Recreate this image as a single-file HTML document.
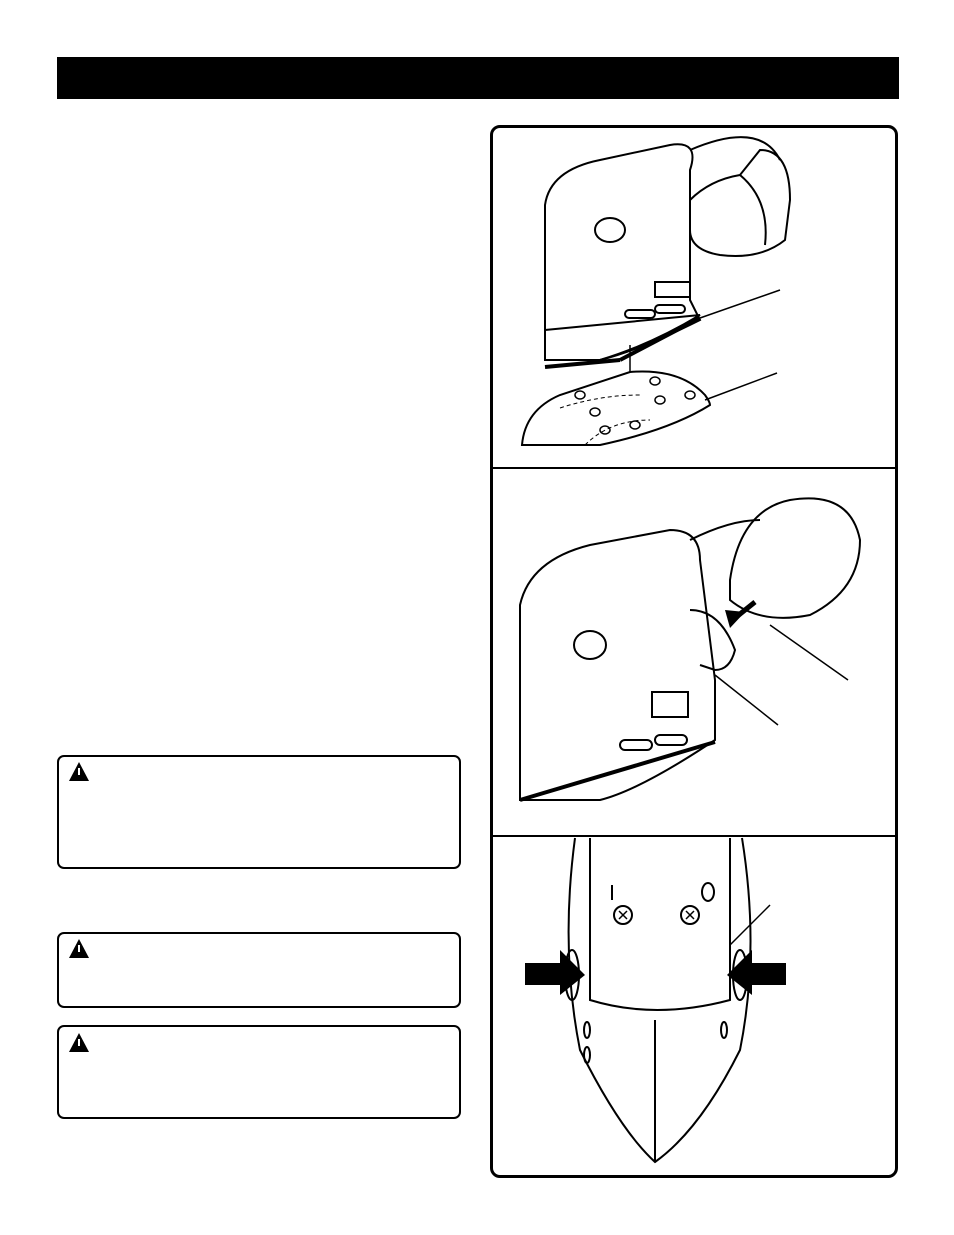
<!DOCTYPE html>
<html><head><meta charset="utf-8"><style>
html,body{margin:0;padding:0;background:#fff;}
body{width:954px;height:1235px;position:relative;overflow:hidden;font-family:"Liberation Sans",sans-serif;}
.bar{position:absolute;left:57px;top:57px;width:842px;height:42px;background:#000;}
.box{position:absolute;border:2.5px solid #000;border-radius:7px;box-sizing:border-box;}
</style></head><body>
<div class="bar"></div>
<div class="box" style="left:57px;top:755px;width:404px;height:114px"></div>
<div class="box" style="left:57px;top:932px;width:404px;height:76px"></div>
<div class="box" style="left:57px;top:1025px;width:404px;height:94px"></div>
<div class="box" style="left:490px;top:125px;width:408px;height:1053px;border-width:3px;border-radius:10px"></div>
<svg width="954" height="1235" style="position:absolute;left:0;top:0">
<g fill="#000">
<polygon points="79,762 69,781 89,781"/>
<polygon points="79,939 69,958 89,958"/>
<polygon points="79,1033 69,1052 89,1052"/>
</g>
<g fill="#fff"><rect x="78" y="768" width="2" height="7"/><rect x="78" y="945" width="2" height="7"/><rect x="78" y="1039" width="2" height="7"/></g>
<line x1="491" y1="468" x2="897" y2="468" stroke="#000" stroke-width="2"/>
<line x1="491" y1="836" x2="897" y2="836" stroke="#000" stroke-width="2"/>
<g fill="none" stroke="#000" stroke-width="2">
<!-- panel 1 sander -->
<path d="M545,360 L545,205 Q550,170 600,160 L670,145 Q700,140 690,170 L690,300 L700,320 Q640,350 600,360 Z"/>
<path d="M545,330 L700,315 Q650,345 600,360"/>
<line x1="545" y1="367" x2="620" y2="360" stroke-width="4"/>
<line x1="620" y1="360" x2="700" y2="318" stroke-width="4"/>
<ellipse cx="610" cy="230" rx="15" ry="12"/>
<path d="M690,200 Q710,180 740,175 L760,150 Q790,150 790,200 L785,240 Q760,260 720,255 Q690,250 690,230"/>
<path d="M740,175 Q770,200 765,245"/>
<path d="M690,150 Q760,120 780,160"/>
<rect x="655" y="282" width="35" height="15"/>
<rect x="625" y="310" width="30" height="8" rx="4"/><rect x="655" y="305" width="30" height="8" rx="4"/>
<line x1="700" y1="318" x2="780" y2="290" stroke-width="1.5"/>
<path d="M522,445 Q525,410 560,395 L630,372 Q680,368 705,395 Q710,402 710,405 Q670,430 600,445 Z"/>
<line x1="705" y1="400" x2="777" y2="373" stroke-width="1.5"/>
<line x1="630" y1="372" x2="630" y2="345" stroke-width="1.5"/>
<path d="M560,408 Q600,395 640,395 M585,445 Q610,420 650,420" stroke-width="1" stroke-dasharray="4,3"/>
<g stroke-width="1.5"><ellipse cx="580" cy="395" rx="5" ry="4"/><ellipse cx="595" cy="412" rx="5" ry="4"/><ellipse cx="605" cy="430" rx="5" ry="4"/><ellipse cx="655" cy="381" rx="5" ry="4"/><ellipse cx="660" cy="400" rx="5" ry="4"/><ellipse cx="635" cy="425" rx="5" ry="4"/><ellipse cx="690" cy="395" rx="5" ry="4"/></g>
<!-- panel 2 -->
<path d="M520,800 L520,605 Q530,560 590,545 L670,530 Q700,530 700,560 L715,680 L715,740 Q640,790 600,800 Z"/>
<line x1="520" y1="800" x2="715" y2="742" stroke-width="4"/>
<ellipse cx="590" cy="645" rx="16" ry="14"/>
<path d="M690,610 Q720,610 735,650 Q730,670 715,670 L700,665"/>
<path d="M730,580 Q740,510 790,500 Q850,490 860,540 Q860,590 810,615 Q760,625 730,600 Z"/>
<path d="M690,540 Q730,520 760,520"/>
<rect x="652" y="692" width="36" height="25"/>
<rect x="620" y="740" width="32" height="10" rx="5"/><rect x="655" y="735" width="32" height="10" rx="5"/>
<line x1="770" y1="625" x2="848" y2="680" stroke-width="1.5"/>
<line x1="715" y1="675" x2="778" y2="725" stroke-width="1.5"/>
<!-- panel 3 -->
<path d="M575,838 Q560,950 580,1050 Q620,1130 655,1162 Q700,1130 740,1050 Q760,950 742,838"/>
<path d="M590,838 L590,1000 Q655,1020 730,1000 L730,838"/>
<circle cx="623" cy="915" r="9"/><circle cx="690" cy="915" r="9"/>
<path d="M619,911 l8,8 M627,911 l-8,8 M686,911 l8,8 M694,911 l-8,8" stroke-width="1.5"/>
<ellipse cx="708" cy="892" rx="6" ry="9"/>
<line x1="612" y1="885" x2="612" y2="900"/>
<line x1="730" y1="945" x2="770" y2="905" stroke-width="1.5"/>
<line x1="655" y1="1020" x2="655" y2="1162"/>
<ellipse cx="572" cy="975" rx="7" ry="25"/><ellipse cx="740" cy="975" rx="7" ry="25"/>
<ellipse cx="587" cy="1030" rx="3" ry="8"/><ellipse cx="587" cy="1055" rx="3" ry="8"/><ellipse cx="724" cy="1030" rx="3" ry="8"/>
</g>
<g fill="#000">
<polygon points="525,963 560,963 560,950 585,975 560,995 560,985 525,985"/>
<polygon points="786,963 752,963 752,950 727,975 752,995 752,985 786,985"/>
<polygon points="745,612 730,628 725,610"/>
<line x1="755" y1="602" x2="735" y2="618" stroke="#000" stroke-width="5"/>
</g>
</svg>
</body></html>
